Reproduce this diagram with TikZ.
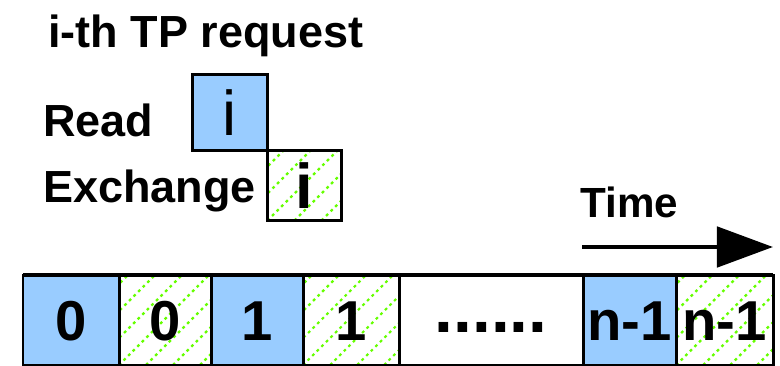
\documentclass[tikz,border=0pt]{standalone}
\usepackage{fontspec}
\setmainfont{Liberation Sans}
\usetikzlibrary{arrows.meta,positioning}

\begin{document}
\begin{tikzpicture}[
  x=0.025cm, y=-0.025cm,
  font=\bfseries,
  frame/.style={draw=black, line width=2.1pt, inner sep=0pt, outer sep=0pt},
  readcell/.style={frame, fill=readblue},
  hatchline/.style={draw=hatchgreen, line width=1.6pt, dash pattern=on 2pt off 2.6pt},
  exchcell/.style={frame, fill=white, path picture={
      \foreach \k in {-4,...,4}
        \draw[hatchline] ([xshift=\k*0.675cm]path picture bounding box.south west) -- ++(3cm,3cm);
    }},
  slot/.style={minimum height=2.25cm, font=\bfseries\fontsize{40}{40}\selectfont,
    text height=28.6pt, text depth=0pt},
  rowtext/.style={anchor=base west, inner sep=0pt, font=\bfseries\fontsize{32}{32}\selectfont},
  timearrow/.style={line width=3.5pt, -{Triangle[length=1.4cm, width=1cm]}}
]

\definecolor{readblue}{RGB}{153,204,255}
\definecolor{hatchgreen}{RGB}{102,255,0}

\useasboundingbox (0,0) rectangle (780,366);

% one request: read slot, then exchange slot
\node[rowtext] (title) at (48,48) {i-th TP request};
\node[rowtext] (readlbl) at (43,137) {Read};
\node[rowtext] (exchlbl) at (43,202) {Exchange};

\node[readcell, minimum width=1.875cm, minimum height=1.9cm, anchor=north west,
  font=\mdseries\fontsize{45}{45}\selectfont] (readbox) at (192.5,74.5) {i};
\node[exchcell, minimum width=1.85cm, minimum height=1.75cm, below right=0pt and 0pt of readbox,
  font=\bfseries\fontsize{45}{45}\selectfont] (exchbox) {i};

\node[rowtext, font=\bfseries\fontsize{30}{30}\selectfont] (timelbl) at (580,217) {Time};
\coordinate (tstart) at (582,247);
\coordinate (tend) at (773,247);
\draw[timearrow] (tstart) -- (tend);

% the whole schedule
\node[readcell, slot, minimum width=2.4cm, anchor=north west] (r0) at (23,275) {0};
\node[exchcell, slot, minimum width=2.3cm, right=0pt of r0] (e0) {0};
\node[readcell, slot, minimum width=2.3cm, right=0pt of e0] (r1) {1};
\node[exchcell, slot, minimum width=2.4cm, right=0pt of r1] (e1) {1};
\node[frame, slot, minimum width=4.6cm, right=0pt of e1,
  font=\bfseries\fontsize{48}{48}\selectfont, text height=18pt] (gap) {......};
\node[readcell, slot, minimum width=2.325cm, right=0pt of gap] (rn) {n-1};
\node[exchcell, slot, minimum width=2.425cm, right=0pt of rn] (en) {n-1};
\draw[line width=2.8pt] (r0.north west) -- (en.north east);

\end{tikzpicture}
\end{document}
